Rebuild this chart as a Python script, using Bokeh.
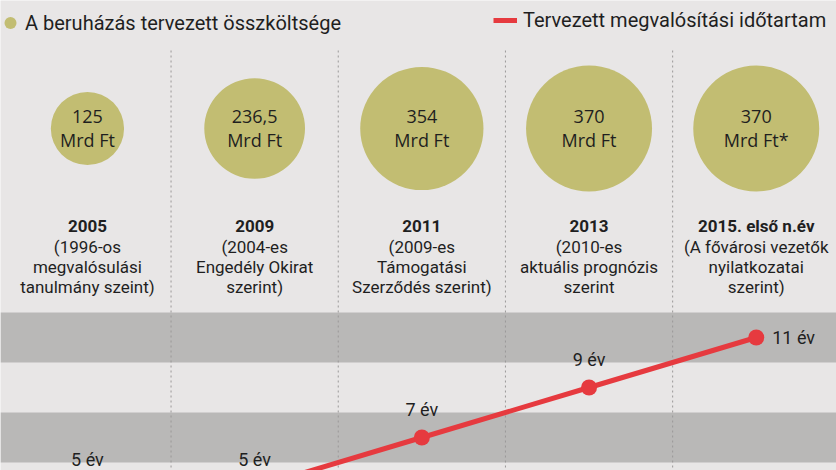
from bokeh.plotting import figure
from bokeh.models import Range1d, BoxAnnotation, Legend, LegendItem, ColumnDataSource
from bokeh.core.properties import value
from bokeh.embed import file_html
from bokeh.resources import INLINE

# ---- data ----
years = ["2005", "2009", "2011", "2013", "2015. első n.év"]
desc_line1 = ["(1996-os", "(2004-es", "(2009-es", "(2010-es", "(A fővárosi vezetők"]
desc_line2 = ["megvalósulási", "Engedély Okirat", "Támogatási", "aktuális prognózis", "nyilatkozatai"]
desc_line3 = ["tanulmány szeint)", "szerint)", "Szerződés szerint)", "szerint", "szerint)"]
cost = [125, 236.5, 354, 370, 370]
cost_text = ["125", "236,5", "354", "370", "370"]
unit_text = ["Mrd Ft", "Mrd Ft", "Mrd Ft", "Mrd Ft", "Mrd Ft*"]
duration = [5, 5, 7, 9, 11]
duration_text = ["5 év", "5 év", "7 év", "9 év", "11 év"]

BG = "#e8e6e6"
OLIVE = "#c2bd72"
RED = "#e63a3f"
BAND = "#b9b8b7"
TXT = "#1f1f1f"
NARROW = "Roboto"

W, H = 836, 470
xs = list(range(len(years)))

p = figure(width=W, height=H, output_backend="svg", toolbar_location=None,
           x_range=Range1d(-0.52, 4.48), y_range=Range1d(5.68, 5.68 + H / 25.0),
           min_border=0, background_fill_color=BG, border_fill_color=BG,
           outline_line_color=None)
p.axis.visible = False
p.grid.visible = False
p.extra_y_ranges = {"px": Range1d(H, 0)}

# grey bands behind the duration line
p.add_layout(BoxAnnotation(bottom=6, top=8, fill_color=BAND, fill_alpha=1, line_color=None, level="underlay"))
p.add_layout(BoxAnnotation(bottom=10, top=12, fill_color=BAND, fill_alpha=1, line_color=None, level="underlay"))

# dotted column separators
sep = ColumnDataSource(dict(x=[i + 0.5 for i in xs[:-1]]))
p.segment(x0="x", x1="x", y0=50, y1=H, source=sep, y_range_name="px",
          line_color="#9a9898", line_width=1, line_dash="2 3")

# bubbles (area proportional to cost)
sizes = [126 * (c / max(cost)) ** 0.5 for c in cost]
bsrc = ColumnDataSource(dict(x=xs, y=[128] * len(xs), size=sizes, t1=cost_text, t2=unit_text,
                             yr=years, d1=desc_line1, d2=desc_line2, d3=desc_line3))
bub = p.scatter("x", "y", size="size", source=bsrc, y_range_name="px",
                fill_color=OLIVE, line_color=None)
p.text("x", 116, text="t1", source=bsrc, y_range_name="px", text_align="center",
       text_baseline="middle", text_font=value("Open Sans"), text_font_size="18px", text_color=TXT)
p.text("x", 139, text="t2", source=bsrc, y_range_name="px", text_align="center",
       text_baseline="middle", text_font=value("Open Sans"), text_font_size="18px", text_color=TXT)

# column captions
p.text("x", 225, text="yr", source=bsrc, y_range_name="px", text_align="center",
       text_baseline="middle", text_font=value(NARROW), text_font_style="bold",
       text_font_size="17px", text_color=TXT)
for col, yy in (("d1", 246), ("d2", 266), ("d3", 286)):
    p.text("x", yy, text=col, source=bsrc, y_range_name="px", text_align="center",
           text_baseline="middle", text_font=value(NARROW), text_font_size="17px", text_color=TXT)

# duration line
lsrc = ColumnDataSource(dict(x=xs, y=duration, t=duration_text))
ln = p.line("x", "y", source=lsrc, line_color=RED, line_width=5)
p.scatter("x", "y", source=lsrc, size=16, fill_color=RED, line_color=None)
above = ColumnDataSource(dict(x=xs[:-1], y=duration[:-1], t=duration_text[:-1]))
p.text("x", "y", text="t", source=above, text_align="center", text_baseline="middle",
       y_offset=-28, text_font=value(NARROW), text_font_size="18px", text_color=TXT)
last = ColumnDataSource(dict(x=xs[-1:], y=duration[-1:], t=duration_text[-1:]))
p.text("x", "y", text="t", source=last, text_align="left", text_baseline="middle",
       x_offset=16, text_font=value(NARROW), text_font_size="18px", text_color=TXT)

# legends
lg1 = Legend(items=[LegendItem(label="A beruházás tervezett összköltsége", renderers=[bub])],
             location=(-5, 430), glyph_width=30, glyph_height=35, label_standoff=0)
lg2 = Legend(items=[LegendItem(label="Tervezett megvalósítási időtartam", renderers=[ln])],
             location=(493, 438), glyph_width=24, glyph_height=20, label_standoff=6)
for lg in (lg1, lg2):
    lg.orientation = "horizontal"
    lg.padding = 0
    lg.margin = 0
    lg.label_text_font = NARROW
    lg.label_text_font_size = "20px"
    lg.label_text_color = TXT
    lg.label_text_baseline = "middle"
    lg.background_fill_alpha = 0
    lg.border_line_color = None
    p.add_layout(lg, "center")

open("out.html", "w").write(file_html(p, INLINE))
